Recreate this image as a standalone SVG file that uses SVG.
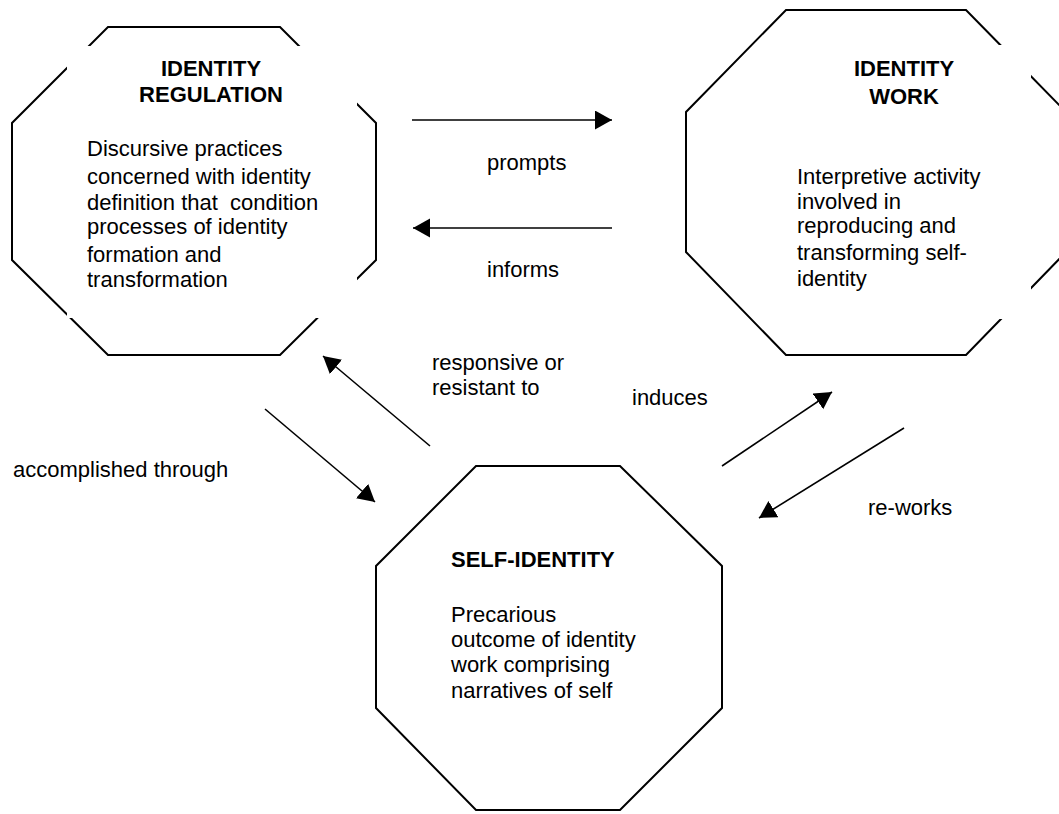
<svg xmlns="http://www.w3.org/2000/svg" width="1059" height="814" viewBox="0 0 1059 814">
<defs>
<style>
.oct{fill:#fff;stroke:#000;stroke-width:2}
.frame{fill:#fff;stroke:none}
.t{font-family:"Liberation Sans",Arial,sans-serif;font-size:22px;fill:#000;white-space:pre}
.b{font-weight:bold}
.c{text-anchor:middle}
.conn{stroke:#000;stroke-width:1.6;fill:none;marker-end:url(#ah)}
</style>
<marker id="ah" markerUnits="userSpaceOnUse" markerWidth="18" markerHeight="20" refX="17" refY="9.5" orient="auto" viewBox="0 0 18 20">
<path d="M0,0 L17,9.5 L0,19 Z" fill="#000"/>
</marker>
</defs>
<rect width="1059" height="814" fill="#fff"/>
<g id="identity-regulation">
<polygon class="oct" points="108,27 280,27 376,123 376,260 280,355 108,355 12,260 12,123"/>
<rect class="frame" x="67" y="46" width="290" height="272"/>
<text class="t b c" x="211" y="76">IDENTITY</text>
<text class="t b c" x="211" y="102">REGULATION</text>
<text class="t" x="87" y="156">Discursive practices</text>
<text class="t" x="87" y="184">concerned with identity</text>
<text class="t" x="87" y="210" xml:space="preserve">definition that  condition</text>
<text class="t" x="87" y="234">processes of identity</text>
<text class="t" x="87" y="262">formation and</text>
<text class="t" x="87" y="287">transformation</text>
</g>
<g id="identity-work">
<polygon class="oct" points="786,10 966,10 1066,112 1066,252 966,355 786,355 686,252 686,112"/>
<rect class="frame" x="790" y="45" width="241" height="274"/>
<text class="t b c" x="904" y="76">IDENTITY</text>
<text class="t b c" x="904" y="104">WORK</text>
<text class="t" x="797" y="184">Interpretive activity</text>
<text class="t" x="797" y="209">involved in</text>
<text class="t" x="797" y="233">reproducing and</text>
<text class="t" x="797" y="260">transforming self-</text>
<text class="t" x="797" y="286">identity</text>
</g>
<g id="self-identity">
<polygon class="oct" points="476,466 620,466 722,566 722,708 620,810 476,810 376,708 376,566"/>
<text class="t b" x="451" y="567">SELF-IDENTITY</text>
<text class="t" x="451" y="622">Precarious</text>
<text class="t" x="451" y="647">outcome of identity</text>
<text class="t" x="451" y="672">work comprising</text>
<text class="t" x="451" y="698">narratives of self</text>
</g>
<g id="connectors">
<line class="conn" x1="412" y1="120" x2="612" y2="120"/>
<line class="conn" x1="612" y1="228" x2="413" y2="228"/>
<line class="conn" x1="430" y1="446" x2="323" y2="356"/>
<line class="conn" x1="265" y1="409" x2="375" y2="502"/>
<line class="conn" x1="722" y1="466" x2="832" y2="392"/>
<line class="conn" x1="904" y1="428" x2="759" y2="518"/>
</g>
<g id="labels">
<text class="t" x="487" y="170">prompts</text>
<text class="t" x="487" y="277">informs</text>
<text class="t" x="432" y="370">responsive or</text>
<text class="t" x="432" y="395">resistant to</text>
<text class="t" x="632" y="405">induces</text>
<text class="t" x="13" y="477">accomplished through</text>
<text class="t" x="868" y="515">re-works</text>
</g>
</svg>
